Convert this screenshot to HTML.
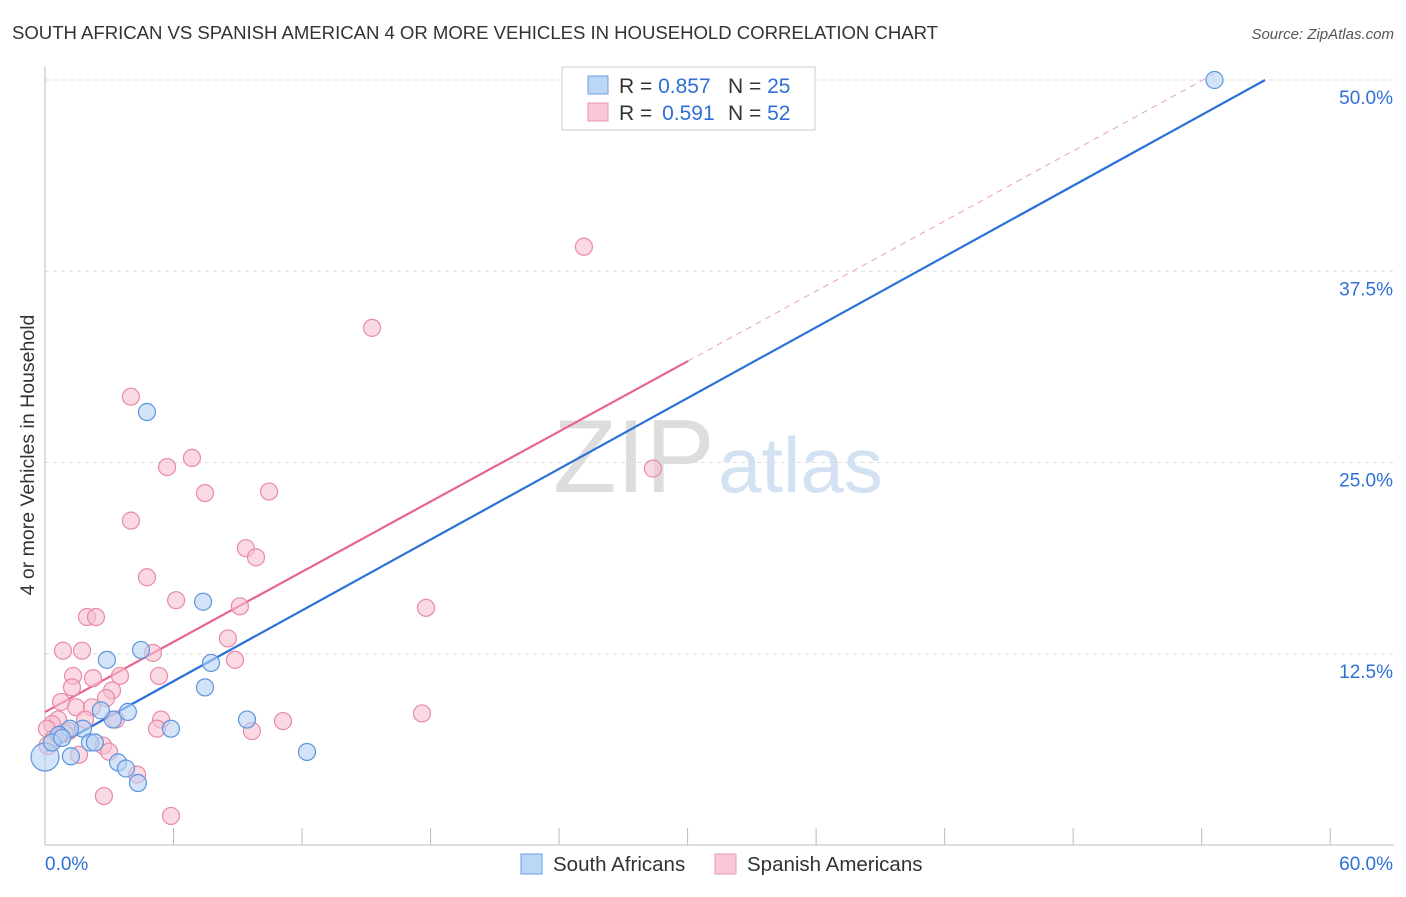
<!DOCTYPE html>
<html><head><meta charset="utf-8"><style>
body{margin:0;background:#fff;font-family:"Liberation Sans",sans-serif;}
svg text{font-family:"Liberation Sans",sans-serif;}
</style></head><body>
<svg width="1406" height="892" xmlns="http://www.w3.org/2000/svg" id="chart">
<text x="12" y="39" font-size="18.6" fill="#333" textLength="926">SOUTH AFRICAN VS SPANISH AMERICAN 4 OR MORE VEHICLES IN HOUSEHOLD CORRELATION CHART</text>
<text x="1394" y="39" font-size="15" fill="#555" font-style="italic" text-anchor="end">Source: ZipAtlas.com</text>
<text x="34" y="455" font-size="19.5" fill="#333" transform="rotate(-90 34 455)" text-anchor="middle">4 or more Vehicles in Household</text>
<text x="553" y="492" font-size="104" fill="#ddd" font-family="Liberation Serif">ZIP</text>
<text x="718" y="492" font-size="78" fill="#d3e2f3">atlas</text>
<g id="grid"></g>
<g id="axes"></g>
<g id="lines"></g>
<g id="pts"></g>
<g>
<rect x="562" y="67" width="253" height="63" fill="#fff" stroke="#ccc"/>
<rect x="588" y="76" width="20" height="18" fill="#bcd6f5" stroke="#6a9fe0"/>
<rect x="588" y="103" width="20" height="18" fill="#f9c8d6" stroke="#e897b0"/>
<text x="619" y="93" font-size="21" fill="#333">R = <tspan fill="#2f6fd6">0.857</tspan><tspan x="728">N = </tspan><tspan fill="#2f6fd6">25</tspan></text>
<text x="619" y="120" font-size="21" fill="#333">R = <tspan dx="4" fill="#2f6fd6">0.591</tspan><tspan x="728">N = </tspan><tspan fill="#2f6fd6">52</tspan></text>
</g>
<g>
<rect x="521" y="854" width="21" height="20" fill="#bcd6f5" stroke="#6a9fe0"/>
<text x="553" y="871" font-size="20.5" fill="#333">South Africans</text>
<rect x="715" y="854" width="21" height="20" fill="#f9c8d6" stroke="#e897b0"/>
<text x="747" y="871" font-size="20.5" fill="#333">Spanish Americans</text>
</g>
</svg>
<script>
const blueX=[54.6,4.76,7.38,4.48,2.89,7.75,7.47,3.17,3.87,2.61,9.43,5.88,1.77,1.17,0.65,2.1,2.33,1.21,3.41,3.78,4.34,12.23,0,0.33,0.8];
const blueY=[50.0,28.3,15.9,12.75,12.1,11.9,10.3,8.2,8.7,8.8,8.2,7.6,7.6,7.6,7.2,6.7,6.7,5.8,5.4,5.0,4.05,6.08,5.75,6.7,7.0];
const pinkX=[25.16,15.27,4.01,5.7,6.86,7.47,10.46,4.01,9.38,9.85,4.76,6.12,9.1,17.79,1.96,2.38,0.84,1.73,5.04,8.54,8.87,1.31,2.24,3.5,5.32,1.26,3.13,0.75,2.85,1.45,2.19,1.87,0.61,0.33,3.31,5.42,11.11,17.6,5.23,9.66,1.12,0.09,0.37,2.71,1.59,2.99,4.3,2.75,5.88,28.38,0.14,0.89];
const pinkY=[39.1,33.8,29.3,24.7,25.3,23.0,23.1,21.2,19.4,18.8,17.5,16.0,15.6,15.5,14.9,14.9,12.7,12.7,12.55,13.5,12.1,11.05,10.9,11.05,11.05,10.3,10.1,9.35,9.6,9.0,9.0,8.2,8.2,7.9,8.2,8.2,8.1,8.6,7.6,7.45,7.45,7.6,6.9,6.5,5.9,6.1,4.6,3.2,1.9,24.6,6.5,7.3];
const yTicks=[12.5,25.0,37.5,50.0];
const xTickLabels=["0.0%","60.0%"];
const blueFit=[6.08,50.0,56.96];
const pinkFit=[8.69,31.63,30.02];
const X=v=>45+v*21.42, Y=v=>845-v*15.3;
const NS="http://www.w3.org/2000/svg";
function mk(p,t,a){const e=document.createElementNS(NS,t);for(const k in a)e.setAttribute(k,a[k]);p.appendChild(e);return e;}
const grid=document.getElementById('grid'),axes=document.getElementById('axes'),lines=document.getElementById('lines'),pts=document.getElementById('pts');
yTicks.forEach(v=>{
 const l=mk(grid,'line',{x1:45,x2:1394,y1:Y(v),y2:Y(v),stroke:'#ddd','stroke-dasharray':'4,4'});
 
 
 const t=mk(axes,'text',{x:1393,y:Y(v)+24,'font-size':19,fill:'#2f6fd6','text-anchor':'end'});t.textContent=v.toFixed(1)+'%';
 
 
});
mk(axes,'line',{x1:45,x2:45,y1:67,y2:845,stroke:'#bbb'});
mk(axes,'line',{x1:45,x2:1394,y1:845,y2:845,stroke:'#bbb'});
for(let i=0;i<=10;i++){const l=mk(axes,'line',{x1:X(i*6),x2:X(i*6),y1:828,y2:845,stroke:'#bbb'});
 
 }
const t0=mk(axes,'text',{x:45,y:870,'font-size':19,fill:'#2f6fd6'});t0.textContent=xTickLabels[0];


const t1=mk(axes,'text',{x:1393,y:870,'font-size':19,fill:'#2f6fd6','text-anchor':'end'});t1.textContent=xTickLabels[1];


function dot(x,y,r,f,s,name){const c=mk(pts,'circle',{cx:X(x),cy:Y(y),r:r,fill:f,stroke:s,'stroke-width':1.2,'fill-opacity':0.6});
 
 }
pinkX.forEach((x,i)=>dot(x,pinkY[i],i>=50?9:8.5,'#f7bfd0','#e88aa8','pink-point'));
blueX.forEach((x,i)=>dot(x,blueY[i],i==22?14:8.5,'#b7d2f3','#5c95de','blue-point'));
const ps=(pinkFit[1]-pinkFit[0])/pinkFit[2];
const pl=mk(lines,'line',{x1:X(0),y1:Y(pinkFit[0]),x2:X(pinkFit[2]),y2:Y(pinkFit[1]),stroke:'#e8648f','stroke-width':2.2});


const pd=mk(lines,'line',{x1:X(pinkFit[2]),y1:Y(pinkFit[1]),x2:X(54.6),y2:Y(pinkFit[0]+ps*54.6),stroke:'#e8a0b8','stroke-width':1,'stroke-dasharray':'6,5'});


const bl=mk(lines,'line',{x1:X(0),y1:Y(blueFit[0]),x2:X(blueFit[2]),y2:Y(blueFit[1]),stroke:'#2a72d8','stroke-width':2.2});


</script>
</body></html>
